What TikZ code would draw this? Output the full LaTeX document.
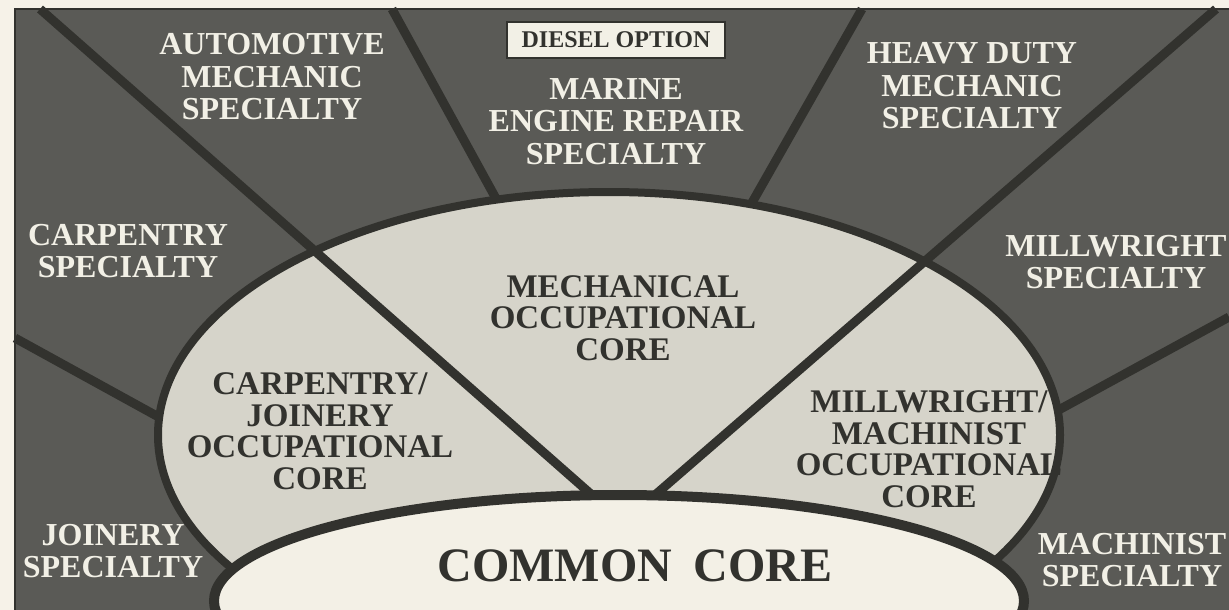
\documentclass[tikz,border=0pt]{standalone}
\usepackage{fontspec}
\setmainfont{Liberation Serif}
\usetikzlibrary{positioning}

\definecolor{paper}{RGB}{246,242,232}
\definecolor{halftone}{RGB}{90,90,86}
\definecolor{corefill}{RGB}{214,212,202}
\definecolor{commonfill}{RGB}{243,240,230}
\definecolor{ink}{RGB}{50,50,46}
\definecolor{chalk}{RGB}{242,240,230}

\tikzset{
  divider/.style={draw=ink, line width=9pt},
  specialty/.style={text=chalk, align=center, inner sep=0pt,
    font=\fontsize{32}{32.5}\selectfont\bfseries},
  corelabel/.style={text=ink, align=center, inner sep=0pt,
    font=\fontsize{33}{31.5}\selectfont\bfseries},
}

\begin{document}
\begin{tikzpicture}[x=1pt, y=-1pt]
  \useasboundingbox (0,0) rectangle (1229,610);
  \fill [paper] (0,0) rectangle (1229,610);

  \begin{scope}
    \clip (0,0) rectangle (1229,610);
    \fill [halftone] (15,9) rectangle (1229,610);
    \draw [ink, line width=1.5pt] (1229,9) -- (15,9) -- (15,610);

    % short dividers, they run under the occupational core
    \draw [divider] (392,9) -- (505,215);
    \draw [divider] (862,9) -- (745,215);
    \draw [divider] (15,338) -- (175,426);
    \draw [divider] (1229,317) -- (1055,412);

    % occupational core
    \fill [corefill] (609,435) ellipse [x radius=451, y radius=243];

    % long dividers, they run over it
    \draw [divider] (40,9) -- (592,495);
    \draw [divider] (1216,9) -- (655,495);
  \end{scope}

  \node [corelabel] (mechcore) at (623,318) {MECHANICAL\\OCCUPATIONAL\\CORE};
  \node [corelabel] (carpcore) at (320,431) {CARPENTRY/\\JOINERY\\OCCUPATIONAL\\CORE};
  \node [corelabel] (millcore) at (929,449) {MILLWRIGHT/\\MACHINIST\\OCCUPATIONAL\\CORE};

  \begin{scope}
    \clip (0,0) rectangle (1229,610);
    \draw [ink, line width=8pt] (609,435) ellipse [x radius=451, y radius=243];
    % common core sits on top of everything
    \filldraw [fill=commonfill, draw=ink, line width=10pt] (619,601) ellipse [x radius=405, y radius=106];
  \end{scope}

  \node [corelabel, font=\fontsize{48}{50}\selectfont\bfseries] (common) at (635,566) {COMMON\hspace{0.45em}CORE};

  % the specialties
  \node [draw=ink, line width=1.5pt, fill=chalk, minimum width=218pt, minimum height=36pt,
    text=ink, font=\fontsize{24}{26}\selectfont\bfseries] (diesel) at (616,40) {DIESEL OPTION};
  \node [specialty, below=19pt of diesel] (marine) {MARINE\\ENGINE REPAIR\\SPECIALTY};
  \node [specialty] (automotive) at (272,77) {AUTOMOTIVE\\MECHANIC\\SPECIALTY};
  \node [specialty] (heavyduty) at (972,86) {HEAVY DUTY\\MECHANIC\\SPECIALTY};
  \node [specialty] (carpentry) at (128,251) {CARPENTRY\\SPECIALTY};
  \node [specialty] (millwright) at (1116,262) {MILLWRIGHT\\SPECIALTY};
  \node [specialty] (joinery) at (113,551) {JOINERY\\SPECIALTY};
  \node [specialty] (machinist) at (1132,560) {MACHINIST\\SPECIALTY};
\end{tikzpicture}
\end{document}
